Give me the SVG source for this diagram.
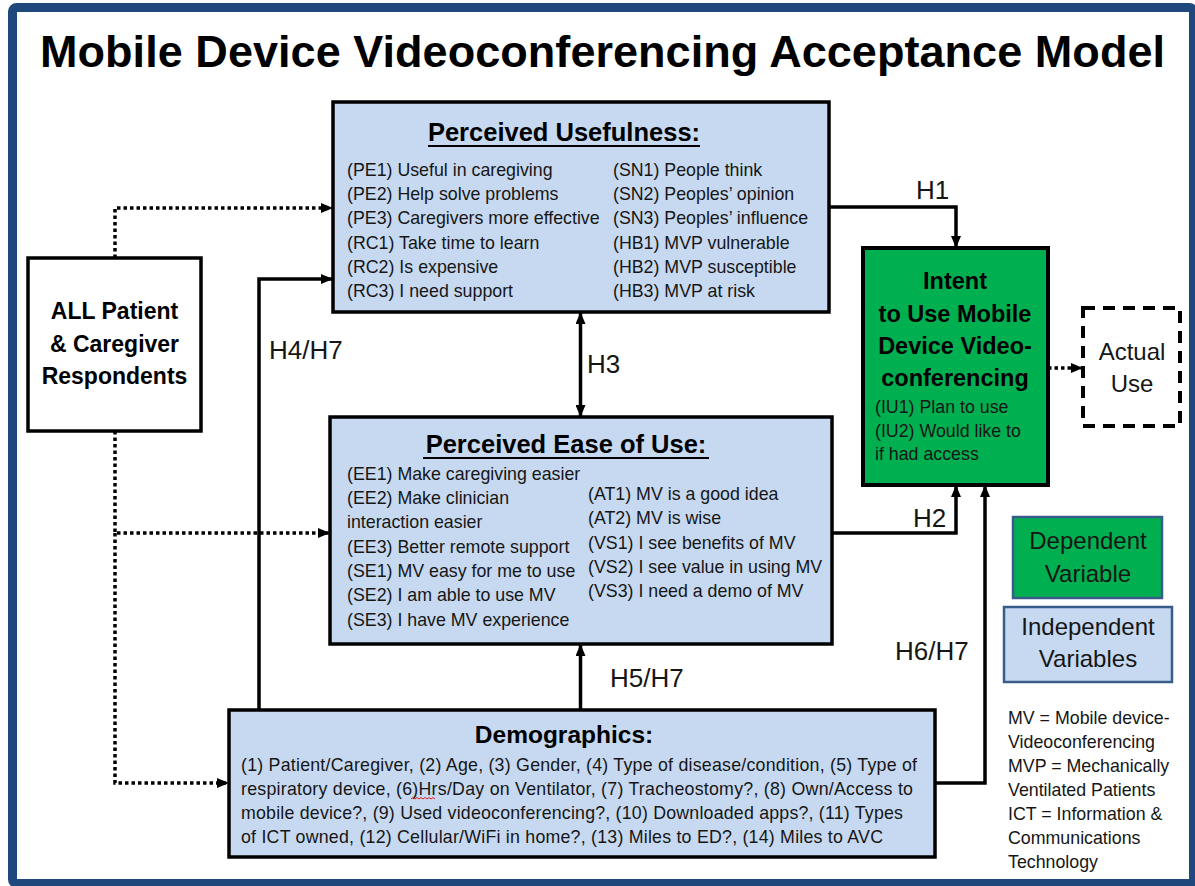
<svg xmlns="http://www.w3.org/2000/svg" width="1195" height="886" viewBox="0 0 1195 886">
  <style>
    text { font-family: "Liberation Sans", Arial, sans-serif; fill: #161616; }
    .title { font-size: 45px; font-weight: bold; fill: #000; }
    .head { font-size: 25.5px; font-weight: bold; text-anchor: middle; fill: #000; }
    .item { font-size: 17.8px; }
    .bold { font-weight: bold; text-anchor: middle; fill: #000; }
    .hyp { font-size: 26px; }
    .legend { font-size: 24px; text-anchor: middle; }
    .box { fill: #C6D9F1; stroke: #000; stroke-width: 3.5; }
    .solid { fill: none; stroke: #000; stroke-width: 3.5; }
    .dotted { fill: none; stroke: #000; stroke-width: 3.5; stroke-dasharray: 3.5 3; }
    .uline { stroke: #000; stroke-width: 2; }
  </style>
  <defs>
    <marker id="arrow" viewBox="0 0 12 10" refX="12" refY="5" markerWidth="12" markerHeight="10" markerUnits="userSpaceOnUse" orient="auto-start-reverse">
      <path d="M0,0 L12,5 L0,10 Z" fill="#000"/>
    </marker>
  </defs>

  <rect width="1195" height="886" fill="#fff"/>
  <!-- outer frame -->
  <rect x="12.5" y="7.5" width="1181" height="876" rx="4" fill="none" stroke="#1F497D" stroke-width="9"/>

  <text class="title" x="40" y="67" textLength="1125" lengthAdjust="spacing">Mobile Device Videoconferencing Acceptance Model</text>

  <!-- connectors -->
  <g id="connectors">
    <!-- respondents to the three constructs -->
    <path class="dotted" d="M115,258 V208 H333" marker-end="url(#arrow)"/>
    <path class="dotted" d="M115,431 V533 H330" marker-end="url(#arrow)"/>
    <path class="dotted" d="M115,533 V783 H229" marker-end="url(#arrow)"/>
    <!-- H4/H7 demographics to usefulness -->
    <path class="solid" d="M259,710 V279 H333" marker-end="url(#arrow)"/>
    <!-- H1 usefulness to intent -->
    <path class="solid" d="M829,207 H956 V248" marker-end="url(#arrow)"/>
    <!-- H2 ease of use to intent -->
    <path class="solid" d="M832,533 H956 V485" marker-end="url(#arrow)"/>
    <!-- H6/H7 demographics to intent -->
    <path class="solid" d="M935,783 H985 V485" marker-end="url(#arrow)"/>
    <!-- H3 usefulness and ease of use -->
    <path class="solid" d="M580.5,312 V417" marker-start="url(#arrow)" marker-end="url(#arrow)"/>
    <!-- H5/H7 demographics to ease of use -->
    <path class="solid" d="M580.5,710 V644" marker-end="url(#arrow)"/>
    <!-- intent to actual use -->
    <path class="dotted" d="M1048,368 H1083" marker-end="url(#arrow)"/>

    <text class="hyp" x="916" y="199">H1</text>
    <text class="hyp" x="913" y="527">H2</text>
    <text class="hyp" x="587" y="373">H3</text>
    <text class="hyp" x="269" y="359">H4/H7</text>
    <text class="hyp" x="610" y="687">H5/H7</text>
    <text class="hyp" x="895" y="660">H6/H7</text>
  </g>

  <!-- respondents -->
  <g id="respondents">
    <rect x="28" y="258" width="173" height="173" fill="#fff" stroke="#000" stroke-width="3.5"/>
    <text class="bold" x="114.5" y="319" font-size="23">ALL Patient</text>
    <text class="bold" x="114.5" y="352" font-size="23">&amp; Caregiver</text>
    <text class="bold" x="114.5" y="384" font-size="23">Respondents</text>
  </g>

  <!-- perceived usefulness -->
  <g id="usefulness">
    <rect class="box" x="333" y="102" width="496" height="210"/>
    <text class="head" x="564" y="141">Perceived Usefulness:</text>
    <line class="uline" x1="428" y1="146" x2="700" y2="146"/>
    <text class="item" x="347" y="176">(PE1) Useful in caregiving</text>
    <text class="item" x="347" y="200">(PE2) Help solve  problems</text>
    <text class="item" x="347" y="224">(PE3) Caregivers more effective</text>
    <text class="item" x="347" y="249">(RC1) Take time to learn</text>
    <text class="item" x="347" y="273">(RC2) Is expensive</text>
    <text class="item" x="347" y="297">(RC3) I need support</text>
    <text class="item" x="613" y="176">(SN1) People think</text>
    <text class="item" x="613" y="200">(SN2) Peoples’ opinion</text>
    <text class="item" x="613" y="224">(SN3) Peoples’ influence</text>
    <text class="item" x="613" y="249">(HB1) MVP vulnerable</text>
    <text class="item" x="613" y="273">(HB2) MVP susceptible</text>
    <text class="item" x="613" y="297">(HB3) MVP at risk</text>
  </g>

  <!-- perceived ease of use -->
  <g id="ease-of-use">
    <rect class="box" x="330" y="417" width="502" height="227"/>
    <text class="head" x="566" y="453" font-size="26">Perceived Ease of Use:</text>
    <line class="uline" x1="423" y1="458" x2="709" y2="458"/>
    <text class="item" x="347" y="480">(EE1) Make caregiving easier</text>
    <text class="item" x="347" y="504">(EE2) Make clinician</text>
    <text class="item" x="347" y="528">interaction easier</text>
    <text class="item" x="347" y="553">(EE3) Better remote support</text>
    <text class="item" x="347" y="577">(SE1) MV easy for me to use</text>
    <text class="item" x="347" y="601">(SE2) I am able to use MV</text>
    <text class="item" x="347" y="626">(SE3) I have MV experience</text>
    <text class="item" x="588" y="500">(AT1) MV is a good idea</text>
    <text class="item" x="588" y="524">(AT2) MV is wise</text>
    <text class="item" x="588" y="549">(VS1) I see benefits  of MV</text>
    <text class="item" x="588" y="573">(VS2) I see value  in using MV</text>
    <text class="item" x="588" y="597">(VS3) I need a demo  of MV</text>
  </g>

  <!-- demographics -->
  <g id="demographics">
    <rect class="box" x="229" y="710" width="706" height="147" stroke-width="4"/>
    <text class="bold" x="564" y="743" font-size="24.5">Demographics:</text>
    <text class="item" x="241" y="771" textLength="676" lengthAdjust="spacing">(1) Patient/Caregiver, (2) Age, (3) Gender, (4) Type of disease/condition,  (5) Type of</text>
    <text class="item" x="241" y="795" textLength="672" lengthAdjust="spacing">respiratory device, (6)Hrs/Day on Ventilator, (7) Tracheostomy?, (8) Own/Access to</text>
    <text class="item" x="241" y="819" textLength="662" lengthAdjust="spacing">mobile device?, (9) Used videoconferencing?, (10) Downloaded apps?, (11) Types</text>
    <text class="item" x="241" y="843" textLength="642" lengthAdjust="spacing">of ICT owned, (12) Cellular/WiFi in home?, (13) Miles to ED?, (14) Miles to AVC</text>
    <!-- spelling mark under "Hrs" -->
    <path d="M411,799 l2,-1.5 l2,1.5 l2,-1.5 l2,1.5 l2,-1.5 l2,1.5 l2,-1.5 l2,1.5 l2,-1.5 l2,1.5 l2,-1.5 l2,1.5" fill="none" stroke="#e02020" stroke-width="1"/>
  </g>

  <!-- intent to use -->
  <g id="intent">
    <rect x="863" y="248" width="185" height="237" fill="#00B050" stroke="#000" stroke-width="4"/>
    <text class="bold" x="955" y="289" font-size="23.5">Intent</text>
    <text class="bold" x="955" y="322" font-size="23.5">to Use Mobile</text>
    <text class="bold" x="955" y="354" font-size="23.5">Device Video-</text>
    <text class="bold" x="955" y="386" font-size="23.5">conferencing</text>
    <text class="item" x="875" y="413" font-size="17.5">(IU1) Plan  to use</text>
    <text class="item" x="875" y="437" font-size="17.5">(IU2) Would  like to</text>
    <text class="item" x="875" y="460" font-size="17.5">if had access</text>
  </g>

  <!-- actual use -->
  <g id="actual-use">
    <rect x="1083" y="308" width="97" height="118" fill="#fff" stroke="#000" stroke-width="4" stroke-dasharray="12 8"/>
    <text class="legend" x="1132" y="360">Actual</text>
    <text class="legend" x="1132" y="392">Use</text>
  </g>

  <!-- legend -->
  <g id="legend-dependent">
    <rect x="1013" y="517" width="149" height="81" fill="#00B050" stroke="#385D8A" stroke-width="2.5"/>
    <text class="legend" x="1088" y="549">Dependent</text>
    <text class="legend" x="1088" y="582">Variable</text>
  </g>
  <g id="legend-independent">
    <rect x="1004" y="607" width="168" height="75" fill="#C6D9F1" stroke="#385D8A" stroke-width="2.5"/>
    <text class="legend" x="1088" y="635">Independent</text>
    <text class="legend" x="1088" y="667">Variables</text>
  </g>
  <g id="abbreviations">
    <text class="item" x="1008" y="724">MV = Mobile  device-</text>
    <text class="item" x="1008" y="748">Videoconferencing</text>
    <text class="item" x="1008" y="772">MVP = Mechanically</text>
    <text class="item" x="1008" y="796">Ventilated Patients</text>
    <text class="item" x="1008" y="820">ICT = Information &amp;</text>
    <text class="item" x="1008" y="844">Communications</text>
    <text class="item" x="1008" y="868">Technology</text>
  </g>
</svg>
